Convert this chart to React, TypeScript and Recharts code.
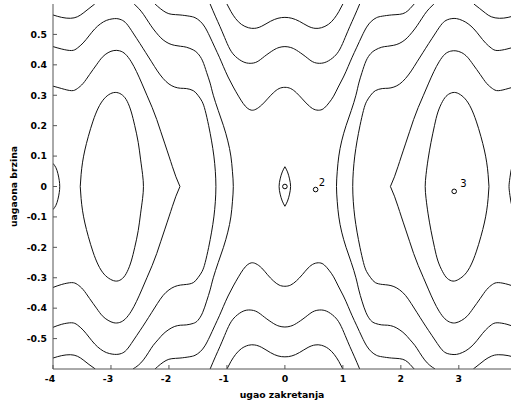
import React from "react";
import { ComposedChart, Line, Scatter, XAxis, YAxis } from "recharts";

const capLeft = [
  [-4, 0.076], [-3.95, 0.062], [-3.915, 0.042], [-3.892, 0.02], [-3.884, 0],
  [-3.892, -0.02], [-3.915, -0.042], [-3.95, -0.062], [-4, -0.076],
];
const capRight = [
  [3.93, 0.072], [3.9, 0.052], [3.882, 0.03], [3.87, 0.012], [3.866, 0],
  [3.87, -0.012], [3.882, -0.03], [3.9, -0.052], [3.93, -0.072],
];

const coreLeft = [
  [-3.53, 0], [-3.515, 0.04], [-3.49, 0.08], [-3.45, 0.12], [-3.39, 0.165], [-3.31, 0.215],
  [-3.22, 0.258], [-3.12, 0.288], [-3.01, 0.305], [-2.9, 0.309], [-2.8, 0.3], [-2.72, 0.28],
  [-2.65, 0.245], [-2.59, 0.2], [-2.53, 0.145], [-2.49, 0.09], [-2.455, 0.04], [-2.44, 0],
  [-2.455, -0.04], [-2.49, -0.09], [-2.53, -0.145], [-2.59, -0.2], [-2.65, -0.245],
  [-2.72, -0.28], [-2.8, -0.302], [-2.9, -0.311], [-3.01, -0.305], [-3.12, -0.288],
  [-3.22, -0.258], [-3.31, -0.215], [-3.39, -0.165], [-3.45, -0.12], [-3.49, -0.08],
  [-3.515, -0.04], [-3.53, 0],
];
const coreRight = [
  [3.52, 0], [3.505, 0.04], [3.48, 0.08], [3.44, 0.12], [3.38, 0.165], [3.3, 0.215],
  [3.21, 0.258], [3.11, 0.288], [3.0, 0.305], [2.9, 0.309], [2.8, 0.3], [2.72, 0.28],
  [2.64, 0.245], [2.58, 0.2], [2.52, 0.145], [2.47, 0.09], [2.435, 0.04], [2.42, 0],
  [2.435, -0.04], [2.47, -0.09], [2.52, -0.145], [2.58, -0.2], [2.64, -0.245],
  [2.72, -0.28], [2.8, -0.302], [2.9, -0.311], [3.0, -0.305], [3.11, -0.288],
  [3.21, -0.258], [3.3, -0.215], [3.38, -0.165], [3.44, -0.12], [3.48, -0.08],
  [3.505, -0.04], [3.52, 0],
];

const sepLeftUpper = [
  [-4, 0.33], [-3.85, 0.322], [-3.68, 0.315], [-3.58, 0.322], [-3.48, 0.339], [-3.37, 0.368],
  [-3.25, 0.4], [-3.15, 0.425], [-3.05, 0.44], [-2.95, 0.447], [-2.85, 0.446], [-2.75, 0.435],
  [-2.65, 0.41], [-2.56, 0.378], [-2.47, 0.34], [-2.38, 0.3], [-2.29, 0.26], [-2.21, 0.22],
  [-2.14, 0.18], [-2.07, 0.14], [-2.0, 0.1], [-1.94, 0.065], [-1.88, 0.032], [-1.81, 0],
];
const sepLeftLower = [
  [-4, -0.332], [-3.85, -0.322], [-3.68, -0.316], [-3.58, -0.322], [-3.48, -0.339], [-3.37, -0.368],
  [-3.25, -0.4], [-3.15, -0.425], [-3.05, -0.44], [-2.95, -0.448], [-2.85, -0.447], [-2.75, -0.435],
  [-2.65, -0.41], [-2.56, -0.378], [-2.47, -0.34], [-2.38, -0.3], [-2.29, -0.26], [-2.21, -0.22],
  [-2.14, -0.18], [-2.07, -0.14], [-2.0, -0.1], [-1.94, -0.065], [-1.88, -0.032], [-1.81, 0],
];
const sepRightUpper = [
  [1.82, 0], [1.89, 0.032], [1.95, 0.065], [2.01, 0.1], [2.08, 0.14], [2.15, 0.18],
  [2.22, 0.22], [2.3, 0.26], [2.39, 0.3], [2.48, 0.34], [2.57, 0.378], [2.66, 0.41],
  [2.76, 0.435], [2.86, 0.445], [2.95, 0.446], [3.05, 0.44], [3.15, 0.425], [3.25, 0.4],
  [3.37, 0.368], [3.48, 0.339], [3.58, 0.322], [3.68, 0.315], [3.85, 0.322], [4, 0.33],
];
const sepRightLower = [
  [1.82, 0], [1.89, -0.032], [1.95, -0.065], [2.01, -0.1], [2.08, -0.14], [2.15, -0.18],
  [2.22, -0.22], [2.3, -0.26], [2.39, -0.3], [2.48, -0.34], [2.57, -0.378], [2.66, -0.41],
  [2.76, -0.435], [2.86, -0.447], [2.95, -0.448], [3.05, -0.44], [3.15, -0.425], [3.25, -0.4],
  [3.37, -0.368], [3.48, -0.339], [3.58, -0.322], [3.68, -0.316], [3.85, -0.322], [4, -0.332],
];

const arcLeftInner = [
  [-4, 0.46], [-3.85, 0.452], [-3.68, 0.447], [-3.58, 0.455], [-3.48, 0.472], [-3.38, 0.495],
  [-3.28, 0.518], [-3.18, 0.535], [-3.08, 0.546], [-2.98, 0.551], [-2.9, 0.552], [-2.82, 0.548],
  [-2.73, 0.535], [-2.62, 0.505], [-2.5, 0.47], [-2.4, 0.44], [-2.3, 0.41], [-2.2, 0.38],
  [-2.1, 0.355], [-2.0, 0.337], [-1.9, 0.327], [-1.8, 0.323], [-1.7, 0.322], [-1.58, 0.315],
  [-1.5, 0.3], [-1.43, 0.28], [-1.375, 0.25], [-1.315, 0.2], [-1.265, 0.15], [-1.225, 0.1],
  [-1.2, 0.05], [-1.19, 0],
  [-1.2, -0.05], [-1.225, -0.1], [-1.265, -0.15], [-1.315, -0.2], [-1.375, -0.25], [-1.43, -0.28],
  [-1.5, -0.3], [-1.58, -0.316], [-1.7, -0.322], [-1.8, -0.324], [-1.9, -0.329], [-2.0, -0.34],
  [-2.1, -0.358], [-2.2, -0.385], [-2.3, -0.415], [-2.4, -0.445], [-2.5, -0.474], [-2.62, -0.508],
  [-2.73, -0.537], [-2.82, -0.549], [-2.9, -0.552], [-2.98, -0.551], [-3.08, -0.546],
  [-3.18, -0.535], [-3.28, -0.518], [-3.38, -0.495], [-3.48, -0.472], [-3.58, -0.455],
  [-3.68, -0.448], [-3.85, -0.453], [-4, -0.463],
];
const arcRightInner = [
  [3.98, 0.46], [3.83, 0.452], [3.66, 0.447], [3.56, 0.455], [3.46, 0.472], [3.36, 0.495],
  [3.26, 0.518], [3.16, 0.535], [3.06, 0.546], [2.96, 0.552], [2.88, 0.552], [2.8, 0.548],
  [2.71, 0.535], [2.6, 0.505], [2.48, 0.47], [2.38, 0.44], [2.28, 0.41], [2.18, 0.38],
  [2.08, 0.355], [1.98, 0.337], [1.88, 0.327], [1.78, 0.323], [1.68, 0.322], [1.56, 0.315],
  [1.48, 0.3], [1.41, 0.28], [1.355, 0.25], [1.295, 0.2], [1.245, 0.15], [1.205, 0.1],
  [1.18, 0.05], [1.17, 0],
  [1.18, -0.05], [1.205, -0.1], [1.245, -0.15], [1.295, -0.2], [1.355, -0.25], [1.41, -0.28],
  [1.48, -0.3], [1.56, -0.316], [1.68, -0.322], [1.78, -0.324], [1.88, -0.329], [1.98, -0.34],
  [2.08, -0.358], [2.18, -0.385], [2.28, -0.415], [2.38, -0.445], [2.48, -0.474], [2.6, -0.508],
  [2.71, -0.537], [2.8, -0.549], [2.88, -0.552], [2.96, -0.552], [3.06, -0.546],
  [3.16, -0.535], [3.26, -0.518], [3.36, -0.495], [3.46, -0.472], [3.56, -0.455],
  [3.66, -0.448], [3.83, -0.453], [3.98, -0.463],
];

const arcLeftOuter = [
  [-2.6, 0.6], [-2.52, 0.585], [-2.44, 0.566], [-2.35, 0.54], [-2.27, 0.518], [-2.18, 0.497],
  [-2.1, 0.482], [-2.0, 0.47], [-1.9, 0.464], [-1.8, 0.461], [-1.7, 0.458], [-1.58, 0.449],
  [-1.5, 0.437], [-1.42, 0.413], [-1.35, 0.375], [-1.29, 0.34], [-1.235, 0.3], [-1.15, 0.25],
  [-1.06, 0.2], [-0.985, 0.15], [-0.932, 0.1], [-0.905, 0.05], [-0.89, 0],
  [-0.905, -0.05], [-0.932, -0.1], [-0.985, -0.15], [-1.06, -0.2], [-1.15, -0.25],
  [-1.235, -0.3], [-1.29, -0.34], [-1.35, -0.377], [-1.42, -0.415], [-1.5, -0.44],
  [-1.58, -0.45], [-1.7, -0.455], [-1.8, -0.456], [-1.9, -0.46], [-2.0, -0.47], [-2.1, -0.485],
  [-2.18, -0.502], [-2.27, -0.522], [-2.35, -0.545], [-2.44, -0.57], [-2.53, -0.588], [-2.62, -0.6],
];
const arcRightOuter = [
  [2.57, 0.6], [2.49, 0.585], [2.41, 0.566], [2.32, 0.54], [2.24, 0.518], [2.15, 0.497],
  [2.07, 0.482], [1.97, 0.47], [1.87, 0.464], [1.77, 0.461], [1.67, 0.458], [1.56, 0.449],
  [1.48, 0.437], [1.4, 0.413], [1.33, 0.375], [1.275, 0.34], [1.225, 0.3], [1.145, 0.25],
  [1.055, 0.2], [0.98, 0.15], [0.93, 0.1], [0.903, 0.05], [0.89, 0],
  [0.903, -0.05], [0.93, -0.1], [0.98, -0.15], [1.055, -0.2], [1.145, -0.25],
  [1.225, -0.3], [1.275, -0.34], [1.33, -0.377], [1.4, -0.415], [1.48, -0.44],
  [1.56, -0.45], [1.67, -0.455], [1.77, -0.456], [1.87, -0.46], [1.97, -0.47], [2.07, -0.485],
  [2.15, -0.502], [2.24, -0.522], [2.32, -0.545], [2.41, -0.57], [2.5, -0.588], [2.59, -0.6],
];

const topLeft = [[-4, 0.564], [-3.85, 0.556], [-3.7, 0.553], [-3.58, 0.558], [-3.48, 0.57], [-3.38, 0.585], [-3.28, 0.6]];
const bottomLeft = [[-4, -0.564], [-3.85, -0.556], [-3.7, -0.553], [-3.58, -0.558], [-3.48, -0.57], [-3.38, -0.585], [-3.27, -0.6]];
const topRight = [[3.26, 0.6], [3.36, 0.585], [3.46, 0.57], [3.56, 0.558], [3.7, 0.553], [3.85, 0.556], [4, 0.564]];
const bottomRight = [[3.25, -0.6], [3.35, -0.585], [3.45, -0.57], [3.56, -0.558], [3.68, -0.553], [3.85, -0.556], [4, -0.564]];

const wave3Upper = [
  [-2.24, 0.6], [-2.15, 0.585], [-2.05, 0.572], [-1.95, 0.566], [-1.81, 0.564], [-1.65, 0.56],
  [-1.55, 0.555], [-1.46, 0.543], [-1.38, 0.524], [-1.3, 0.495], [-1.21, 0.458], [-1.13, 0.425],
  [-1.06, 0.394], [-0.98, 0.36], [-0.89, 0.327], [-0.8, 0.297], [-0.72, 0.273], [-0.65, 0.258],
  [-0.58, 0.251], [-0.5, 0.254], [-0.4, 0.268], [-0.3, 0.288], [-0.2, 0.308], [-0.1, 0.322],
  [0, 0.326], [0.1, 0.322], [0.2, 0.308], [0.3, 0.288], [0.4, 0.268], [0.5, 0.254], [0.6, 0.251],
  [0.68, 0.258], [0.76, 0.275], [0.84, 0.297], [0.92, 0.327], [1.01, 0.36], [1.09, 0.394],
  [1.16, 0.425], [1.24, 0.458], [1.33, 0.495], [1.41, 0.524], [1.49, 0.543], [1.58, 0.555],
  [1.68, 0.56], [1.84, 0.564], [1.98, 0.566], [2.08, 0.572], [2.16, 0.585], [2.23, 0.6],
];
const wave3Lower = [
  [-2.24, -0.6], [-2.15, -0.585], [-2.05, -0.572], [-1.95, -0.566], [-1.81, -0.564], [-1.65, -0.56],
  [-1.55, -0.555], [-1.46, -0.543], [-1.38, -0.524], [-1.3, -0.495], [-1.21, -0.458], [-1.13, -0.425],
  [-1.06, -0.394], [-0.98, -0.36], [-0.89, -0.327], [-0.8, -0.297], [-0.72, -0.273], [-0.65, -0.258],
  [-0.58, -0.251], [-0.5, -0.254], [-0.4, -0.268], [-0.3, -0.29], [-0.2, -0.31], [-0.1, -0.324],
  [0, -0.328], [0.1, -0.324], [0.2, -0.31], [0.3, -0.29], [0.4, -0.268], [0.5, -0.254], [0.6, -0.251],
  [0.68, -0.258], [0.76, -0.275], [0.84, -0.297], [0.92, -0.327], [1.01, -0.36], [1.09, -0.394],
  [1.16, -0.425], [1.24, -0.458], [1.33, -0.495], [1.41, -0.524], [1.49, -0.543], [1.58, -0.555],
  [1.68, -0.56], [1.84, -0.564], [1.98, -0.566], [2.08, -0.572], [2.16, -0.585], [2.23, -0.6],
];

const wave2Upper = [
  [-1.29, 0.6], [-1.2, 0.56], [-1.12, 0.526], [-1.04, 0.49], [-0.95, 0.452], [-0.85, 0.427],
  [-0.72, 0.41], [-0.6, 0.405], [-0.48, 0.41], [-0.35, 0.428], [-0.2, 0.448], [-0.1, 0.457],
  [0, 0.46], [0.1, 0.457], [0.2, 0.448], [0.35, 0.428], [0.48, 0.41], [0.6, 0.405], [0.72, 0.41],
  [0.85, 0.427], [0.95, 0.452], [1.04, 0.49], [1.12, 0.526], [1.2, 0.56], [1.29, 0.6],
];
const wave2Lower = [
  [-1.29, -0.6], [-1.2, -0.56], [-1.12, -0.526], [-1.04, -0.49], [-0.95, -0.452], [-0.85, -0.427],
  [-0.72, -0.41], [-0.6, -0.406], [-0.48, -0.412], [-0.35, -0.43], [-0.2, -0.45], [-0.1, -0.459],
  [0, -0.462], [0.1, -0.459], [0.2, -0.45], [0.35, -0.43], [0.48, -0.412], [0.6, -0.406], [0.72, -0.41],
  [0.85, -0.427], [0.95, -0.452], [1.04, -0.49], [1.12, -0.526], [1.2, -0.56], [1.29, -0.6],
];

const wave1Upper = [
  [-1.0, 0.6], [-0.93, 0.575], [-0.85, 0.552], [-0.75, 0.533], [-0.63, 0.522], [-0.52, 0.52],
  [-0.4, 0.527], [-0.25, 0.543], [-0.12, 0.553], [0, 0.556], [0.12, 0.553], [0.25, 0.543],
  [0.4, 0.527], [0.52, 0.52], [0.63, 0.522], [0.75, 0.533], [0.85, 0.552], [0.93, 0.575], [1.0, 0.6],
];
const wave1Lower = [
  [-1.0, -0.6], [-0.93, -0.575], [-0.85, -0.552], [-0.75, -0.533], [-0.63, -0.522], [-0.52, -0.521],
  [-0.4, -0.529], [-0.25, -0.546], [-0.12, -0.557], [0, -0.56], [0.12, -0.557], [0.25, -0.546],
  [0.4, -0.529], [0.52, -0.521], [0.63, -0.522], [0.75, -0.533], [0.85, -0.552], [0.93, -0.575], [1.0, -0.6],
];

const lensLeft = [[0, 0.065], [-0.045, 0.048], [-0.082, 0.025], [-0.1, 0], [-0.082, -0.025], [-0.045, -0.048], [0, -0.065]];
const lensRight = [[0, 0.065], [0.045, 0.048], [0.08, 0.025], [0.098, 0], [0.08, -0.025], [0.045, -0.048], [0, -0.065]];

const contours = [
  capLeft, capRight, coreLeft, coreRight, sepLeftUpper, sepLeftLower, sepRightUpper, sepRightLower,
  arcLeftInner, arcRightInner, arcLeftOuter, arcRightOuter, topLeft, bottomLeft, topRight, bottomRight,
  wave3Upper, wave3Lower, wave2Upper, wave2Lower, wave1Upper, wave1Lower, lensLeft, lensRight,
];

// equilibrium points
const eqX = [0, 0.53, 2.92];
const eqY = [0, -0.01, -0.016];
const eqLabels = ["", "2", "3"];

const xTicks = [-4, -3, -2, -1, 0, 1, 2, 3];
const yTicks = [-0.5, -0.4, -0.3, -0.2, -0.1, 0, 0.1, 0.2, 0.3, 0.4, 0.5];

const FONT = "'DejaVu Sans', sans-serif";
const AXIS = "#555";

const toPts = (c: number[][]) => c.map(([x, y]) => ({ x, y }));
const eqData = eqX.map((x, i) => ({ x, y: eqY[i], label: eqLabels[i] }));

function EqMark(props: any) {
  const { cx, cy, payload } = props;
  return (
    <g>
      <circle cx={cx} cy={cy} r={2.3} fill="#fff" stroke="#000" strokeWidth={1} />
      {payload.label && (
        <text
          x={cx + (payload.label === "2" ? 3 : 6)}
          y={cy - 4}
          fontSize={10}
          fontFamily={FONT}
          fill="#000"
        >
          {payload.label}
        </text>
      )}
    </g>
  );
}

function XTick(props: any) {
  const { x, y, payload } = props;
  return (
    <text x={x + (payload.value < 0 ? -3 : 0)} y={y} dy="0.71em" textAnchor="middle"
      fontSize={9.3} fontWeight="bold" fontFamily={FONT} fill="#000">
      {payload.value}
    </text>
  );
}

export default function App() {
  return (
    <div style={{ position: "absolute", left: 0, top: 0, width: 513, height: 404, background: "#fff" }}>
      <ComposedChart width={513} height={404} margin={{ top: 4, right: 2, bottom: 0, left: 0 }}>
        <XAxis
          dataKey="x"
          type="number"
          domain={[-4, 3.9]}
          ticks={xTicks}
          allowDataOverflow
          height={35}
          tickSize={-4}
          tickMargin={10}
          tick={<XTick />}
          stroke={AXIS}
          label={{ value: "ugao zakretanja", position: "insideBottom", offset: 6, fontSize: 9.3, fontWeight: "bold", fontFamily: FONT, fill: "#000" }}
        />
        <XAxis xAxisId="top" orientation="top" type="number" domain={[-4, 3.9]} ticks={xTicks}
          allowDataOverflow height={0} tickSize={-4} tick={false} stroke={AXIS} />
        <YAxis
          dataKey="y"
          type="number"
          domain={[-0.6, 0.6]}
          ticks={yTicks}
          allowDataOverflow
          width={53}
          tickSize={-4}
          tickMargin={10}
          stroke={AXIS}
          tick={{ fontSize: 9.3, fontWeight: "bold", fontFamily: FONT, fill: "#000" }}
          label={{ value: "uagaona brzina", angle: -90, position: "insideLeft", offset: 14, fontSize: 9.3, fontWeight: "bold", fontFamily: FONT, fill: "#000", style: { textAnchor: "middle" } }}
        />
        <YAxis yAxisId="right" orientation="right" type="number" domain={[-0.6, 0.6]} ticks={yTicks}
          allowDataOverflow width={0} tickSize={-4} tick={false} stroke={AXIS} />
        {contours.map((c, i) => (
          <Line
            key={i}
            data={toPts(c)}
            dataKey="y"
            type="natural"
            dot={false}
            activeDot={false}
            stroke="#111"
            strokeWidth={1}
            isAnimationActive={false}
          />
        ))}
        <Scatter data={eqData} dataKey="y" shape={<EqMark />} isAnimationActive={false} />
      </ComposedChart>
    </div>
  );
}
